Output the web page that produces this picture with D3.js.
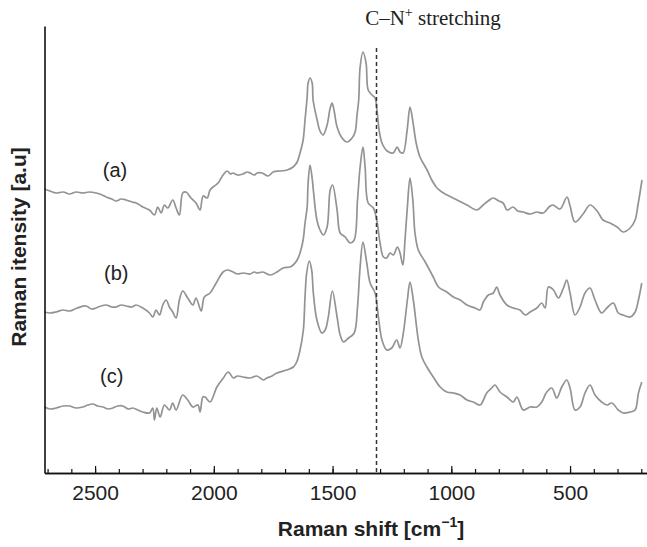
<!DOCTYPE html>
<html>
<head>
<meta charset="utf-8">
<script src="https://cdn.jsdelivr.net/npm/d3@7"></script>
<style>
  body { margin: 0; background: #fff; }
  svg { display: block; }
</style>
</head>
<body>
<svg id="chart" width="647" height="547"></svg>
<script>
// tick values on the Raman shift axis
const majorTicks = [2500, 2000, 1500, 1000, 500];
const minorTicks = [2700, 2600, 2500, 2400, 2300, 2200, 2100, 2000, 1900, 1800, 1700, 1600, 1500,
  1400, 1300, 1200, 1100, 1000, 900, 800, 700, 600, 500, 400, 300, 200];

// position of the C–N+ band marker (cm-1)
const markerShift = 1315;

const seriesNames = ["(a)", "(b)", "(c)"];
// where each label sits, in [shift, intensity]
const labelAnchors = [[2416, 303], [2411, 200], [2430, 97]];

// spectra: [Raman shift, intensity (a.u.)]
const spectrumA = [[2713,284],[2690,282],[2664,280],[2634,281],[2608,279],[2580,281],[2552,280],[2525,281],
  [2496,280],[2470,278],[2453,276],[2430,274],[2411,272],[2390,274],[2369,273],[2345,271],[2327,270],
  [2299,266],[2271,263],[2250,258],[2236,266],[2222,260],[2208,268],[2194,265],[2173,273],[2159,265],
  [2145,258],[2131,280],[2117,281],[2096,275],[2075,270],[2058,263],[2045,277],[2028,275],[2016,283],
  [2003,286],[1982,290],[1961,298],[1944,302],[1930,299],[1919,300],[1900,298],[1877,299],[1860,301],
  [1847,300],[1830,298],[1818,300],[1797,300],[1771,297],[1750,301],[1721,302],[1691,303],[1666,306],
  [1649,311],[1637,320],[1624,333],[1616,353],[1607,376],[1603,390],[1595,395],[1586,390],[1582,373],
  [1565,353],[1553,342],[1540,338],[1523,348],[1510,365],[1502,370],[1494,363],[1481,346],[1460,335],
  [1439,331],[1418,335],[1405,341],[1397,358],[1390,373],[1384,406],[1372,421],[1359,410],[1350,383],
  [1334,378],[1321,375],[1313,363],[1304,343],[1292,330],[1270,322],[1245,320],[1228,326],[1216,321],
  [1203,320],[1186,343],[1174,366],[1161,350],[1148,330],[1132,316],[1102,303],[1080,292],[1060,285],
  [1040,281],[1018,278],[976,273],[934,268],[892,263],[866,268],[845,272],[824,275],[800,272],[782,270],
  [765,263],[740,266],[720,262],[698,261],[668,259],[640,261],[614,260],[584,267],[572,268],[542,264],
  [513,276],[500,267],[479,251],[445,259],[416,268],[386,262],[361,253],[332,250],[302,246],[277,241],
  [247,245],[226,253],[214,268],[197,293]];

const spectrumB = [[2713,161],[2690,160],[2664,161],[2635,163],[2608,162],[2575,165],[2538,167],[2515,164],
  [2496,165],[2475,167],[2453,168],[2430,166],[2411,166],[2390,168],[2369,167],[2345,166],[2327,168],
  [2299,165],[2271,160],[2257,156],[2243,163],[2229,158],[2215,168],[2201,173],[2187,166],[2173,161],
  [2159,155],[2145,173],[2131,182],[2110,175],[2088,168],[2075,175],[2053,162],[2040,176],[2016,180],
  [1990,190],[1961,201],[1944,203],[1919,201],[1900,199],[1877,200],[1847,199],[1830,201],[1818,200],
  [1793,201],[1763,198],[1734,201],[1708,205],[1679,206],[1666,208],[1649,213],[1637,220],[1624,233],
  [1616,250],[1607,266],[1603,290],[1595,308],[1586,295],[1581,283],[1566,253],[1553,243],[1539,238],
  [1523,246],[1510,283],[1500,288],[1481,263],[1468,240],[1447,236],[1426,230],[1409,233],[1395,273],
  [1384,306],[1372,326],[1363,306],[1350,270],[1328,265],[1314,253],[1300,230],[1286,216],[1272,215],
  [1258,220],[1244,218],[1227,226],[1216,220],[1204,208],[1195,233],[1185,266],[1174,295],[1162,273],
  [1153,240],[1139,223],[1110,211],[1076,196],[1054,186],[1019,181],[991,176],[963,173],[934,168],
  [900,165],[879,163],[865,171],[844,178],[823,180],[809,186],[795,178],[766,168],[739,165],[711,163],
  [689,158],[668,161],[640,165],[619,170],[605,165],[591,186],[570,183],[549,175],[528,185],[514,193],
  [500,180],[479,158],[458,166],[437,180],[416,185],[395,173],[367,160],[345,165],[318,170],[297,160],
  [277,158],[247,156],[226,161],[212,173],[198,190]];

const spectrumC = [[2713,66],[2690,64],[2664,65],[2635,67],[2608,67],[2580,65],[2552,66],[2530,68],
  [2509,69],[2490,67],[2467,66],[2445,64],[2425,65],[2405,67],[2383,67],[2360,64],[2341,65],[2320,63],
  [2299,61],[2271,60],[2257,65],[2250,53],[2240,65],[2226,56],[2208,68],[2187,63],[2173,70],[2159,63],
  [2131,78],[2110,73],[2088,66],[2067,68],[2058,61],[2046,76],[2037,76],[2016,71],[1987,86],[1960,95],
  [1939,101],[1918,95],[1900,97],[1877,96],[1847,95],[1819,97],[1791,93],[1777,95],[1755,97],[1735,100],
  [1693,103],[1665,106],[1651,111],[1637,123],[1623,143],[1616,176],[1609,200],[1598,212],[1588,203],
  [1581,180],[1566,153],[1545,140],[1531,143],[1518,156],[1501,182],[1481,156],[1468,138],[1454,131],
  [1433,135],[1409,140],[1395,166],[1384,206],[1372,231],[1356,210],[1342,190],[1321,180],[1307,156],
  [1292,133],[1272,123],[1251,125],[1230,133],[1216,125],[1202,140],[1185,173],[1174,191],[1160,173],
  [1139,133],[1124,116],[1103,106],[1076,96],[1047,86],[1019,81],[991,80],[963,78],[934,73],[907,71],
  [879,68],[851,80],[830,85],[816,88],[795,81],[766,76],[739,71],[724,76],[697,63],[668,66],[640,66],
  [619,71],[598,81],[577,85],[556,75],[535,86],[514,93],[500,85],[479,63],[458,66],[437,80],[416,88],
  [395,78],[367,71],[345,68],[324,70],[297,63],[277,60],[247,61],[226,63],[212,80],[198,91]];

const spectra = [spectrumA, spectrumB, spectrumC];

const sans = "'Liberation Sans', Arial, sans-serif";
const serif = "'Liberation Serif', 'Times New Roman', serif";

const svg = d3.select("#chart");

// reversed wavenumber axis, as usual for Raman plots
const x = d3.scaleLinear().domain([2713, 176]).range([44.5, 647]);
const y = d3.scaleLinear().domain([0, 447]).range([473, 26]);

const line = d3.line()
  .curve(d3.curveCatmullRom.alpha(0.5))
  .x(d => x(d[0]))
  .y(d => y(d[1]));

// spectra
svg.append("g")
  .selectAll("path.spectrum")
  .data(spectra)
  .enter().append("path")
  .classed("spectrum", true)
  .attr("d", line)
  .attr("fill", "none")
  .attr("stroke", "#939393")
  .attr("stroke-width", 1.7)
  .attr("stroke-linejoin", "round");

// dashed marker for the C–N+ band
svg.append("line")
  .attr("x1", x(markerShift)).attr("x2", x(markerShift))
  .attr("y1", 48).attr("y2", y(0))
  .attr("stroke", "#333")
  .attr("stroke-width", 1.5)
  .attr("stroke-dasharray", "4,3");

// x axis: minor ticks, then labelled major ticks (both pointing inward)
const gx = svg.append("g").attr("transform", `translate(0,${y(0)})`);
gx.call(d3.axisBottom(x).tickValues(minorTicks).tickSize(-4).tickSizeOuter(0).tickFormat(""));
gx.append("g").call(d3.axisBottom(x).tickValues(majorTicks).tickSize(-7).tickSizeOuter(0)
  .tickPadding(12).tickFormat(d3.format("d")));
gx.selectAll("path.domain").attr("stroke", "#111").attr("stroke-width", 1.6);
gx.selectAll(".tick line").attr("stroke", "#111").attr("stroke-width", 1.2);
gx.selectAll(".tick text")
  .style("font-family", sans)
  .style("font-size", "21px")
  .attr("fill", "#222");

// y axis: bare line
const gy = svg.append("g").attr("transform", `translate(${x.range()[0]},0)`);
gy.call(d3.axisLeft(y).tickValues([]).tickSizeOuter(0));
gy.select("path.domain").attr("stroke", "#111").attr("stroke-width", 1.6);

// series labels
svg.append("g")
  .selectAll("text")
  .data(seriesNames)
  .enter().append("text")
  .attr("x", (d, i) => x(labelAnchors[i][0]))
  .attr("y", (d, i) => y(labelAnchors[i][1]))
  .attr("text-anchor", "middle")
  .attr("dominant-baseline", "central")
  .style("font-family", sans)
  .style("font-size", "20px")
  .attr("fill", "#222")
  .text(d => d);

// annotation above the dashed line
const note = svg.append("text")
  .attr("x", 433).attr("y", 25)
  .attr("text-anchor", "middle")
  .style("font-family", serif)
  .style("font-size", "21px")
  .attr("fill", "#222");
note.append("tspan").text("C–N");
note.append("tspan").attr("dy", -8).style("font-size", "14px").text("+");
note.append("tspan").attr("dy", 8).text(" stretching");

// axis titles
const xt = svg.append("text")
  .attr("x", 371).attr("y", 536)
  .attr("text-anchor", "middle")
  .style("font-family", sans)
  .style("font-weight", "bold")
  .style("font-size", "21px")
  .attr("fill", "#222");
xt.append("tspan").text("Raman shift [cm");
xt.append("tspan").attr("dy", -9).style("font-size", "14px").text("−1");
xt.append("tspan").attr("dy", 9).text("]");

svg.append("text")
  .attr("transform", "translate(26,247) rotate(-90)")
  .attr("text-anchor", "middle")
  .style("font-family", sans)
  .style("font-weight", "bold")
  .style("font-size", "21px")
  .attr("fill", "#222")
  .text("Raman itensity [a.u]");
</script>
</body>
</html>
